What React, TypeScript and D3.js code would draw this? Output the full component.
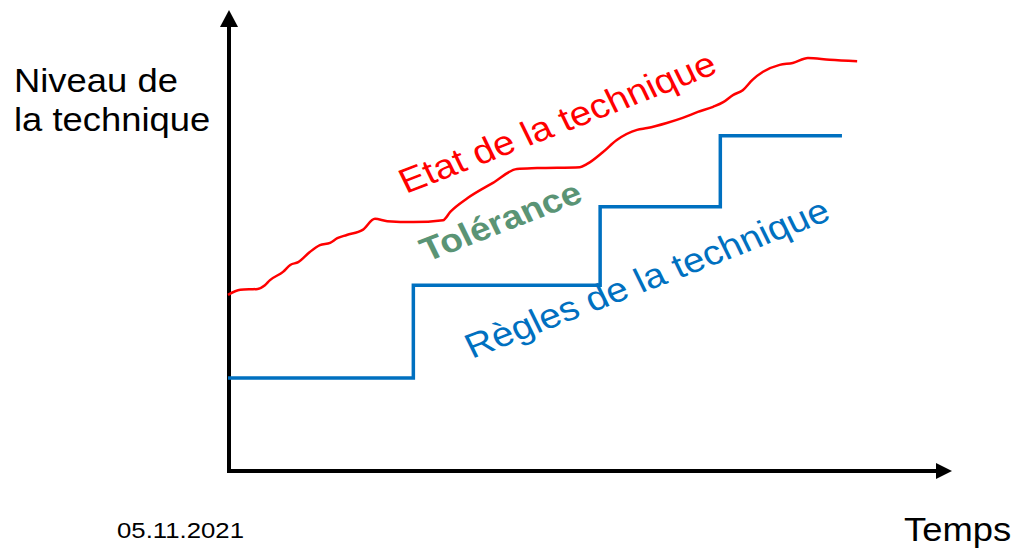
import React, { useEffect, useRef } from "react";
import * as d3 from "d3";

// state of the art (red curve), time vs level in 0..100 units
const etatX = [0, 1.7, 4.1, 5.1, 5.8, 7.6, 8.6, 9.7, 11.3, 12.7, 14.1, 15.1, 16.4, 18.6, 20.3, 22.0, 25.6, 29.7, 30.7, 33.1, 36.6, 39.9, 42.7, 48.6, 49.6, 51.8, 53.7, 56.5, 57.9, 60.6, 62.8, 64.9, 67.0, 68.4, 69.8, 71.1, 72.4, 73.9, 76.2, 78.0, 80.1, 83.1, 86.9];
const etatY = [38.2, 39.3, 39.5, 40.3, 41.4, 43.2, 44.7, 45.3, 47.5, 49.0, 49.5, 50.5, 51.2, 52.3, 54.7, 54.2, 54.0, 54.4, 56.2, 59.2, 62.5, 65.5, 65.7, 65.9, 66.6, 69.2, 71.8, 74.0, 74.4, 75.5, 76.6, 77.9, 79.0, 80.0, 81.6, 82.6, 84.8, 86.6, 88.1, 88.5, 89.6, 89.2, 88.9];

// rules (blue step line)
const reglesX = [0, 25.6, 51.4, 68.0, 84.8];
const reglesY = [20.2, 40.3, 57.3, 72.7, 72.7];

const yLabel = ["Niveau de", "la technique"];
const xLabel = "Temps";
const dateLabel = "05.11.2021";

const W = 1016, H = 550;

export default function App() {
  const ref = useRef<SVGSVGElement>(null);

  useEffect(() => {
    const svg = d3.select(ref.current);
    svg.selectAll("*").remove();

    const x = d3.scaleLinear().domain([0, 100]).range([228, 952]);
    const y = d3.scaleLinear().domain([0, 100]).range([471, 10]);
    const font = "Liberation Sans, Arial, sans-serif";

    // axes with arrow heads
    const x0 = x(0), y0 = y(0);
    svg.append("line").attr("x1", x0 + 1).attr("x2", x0 + 1).attr("y1", y0 + 2).attr("y2", y(100) + 16)
      .attr("stroke", "#000").attr("stroke-width", 4);
    svg.append("path").attr("d", `M${x0 + 1},${y(100)} L${x0 - 8},${y(100) + 17} L${x0 + 10},${y(100) + 17} Z`).attr("fill", "#000");
    svg.append("line").attr("x1", x0 - 1).attr("x2", x(100) - 15).attr("y1", y0).attr("y2", y0)
      .attr("stroke", "#000").attr("stroke-width", 4);
    svg.append("path").attr("d", `M${x(100)},${y0} L${x(100) - 16},${y0 - 8} L${x(100) - 16},${y0 + 8} Z`).attr("fill", "#000");

    const etat = etatX.map((v, i) => [v, etatY[i]] as [number, number]);
    const regles = reglesX.map((v, i) => [v, reglesY[i]] as [number, number]);

    svg.append("path").datum(etat)
      .attr("d", d3.line().x(d => x(d[0])).y(d => y(d[1])).curve(d3.curveMonotoneX))
      .attr("fill", "none").attr("stroke", "#ff0000").attr("stroke-width", 2.5);

    svg.append("path").datum(regles)
      .attr("d", d3.line().x(d => x(d[0])).y(d => y(d[1])).curve(d3.curveStepAfter))
      .attr("fill", "none").attr("stroke", "#0070c0").attr("stroke-width", 3.5);

    const label = (t: string, tx: number, ty: number, size: number, color: string, angle = 0, weight = "normal") =>
      svg.append("text").text(t)
        .attr("transform", `translate(${tx},${ty}) scale(1.12,1) rotate(${angle})`)
        .attr("font-family", font).attr("font-size", size).attr("font-weight", weight).attr("fill", color);

    label(yLabel[0], 14, 92, 32.5, "#000");
    label(yLabel[1], 14, 131, 32.5, "#000");
    label(xLabel, 904, 541, 32.5, "#000");
    label(dateLabel, 117, 538, 23, "#000");

    label("Etat de la technique", 406, 194, 34.5, "#ff0000", -23.5);
    label("Tolérance", 427, 262, 33, "#5a9475", -23.5, "bold");
    label("Règles de la technique", 472, 359, 34.5, "#0070c0", -23.5);
  }, []);

  return <svg ref={ref} width={W} height={H} style={{ position: "absolute", left: 0, top: 0 }} />;
}
